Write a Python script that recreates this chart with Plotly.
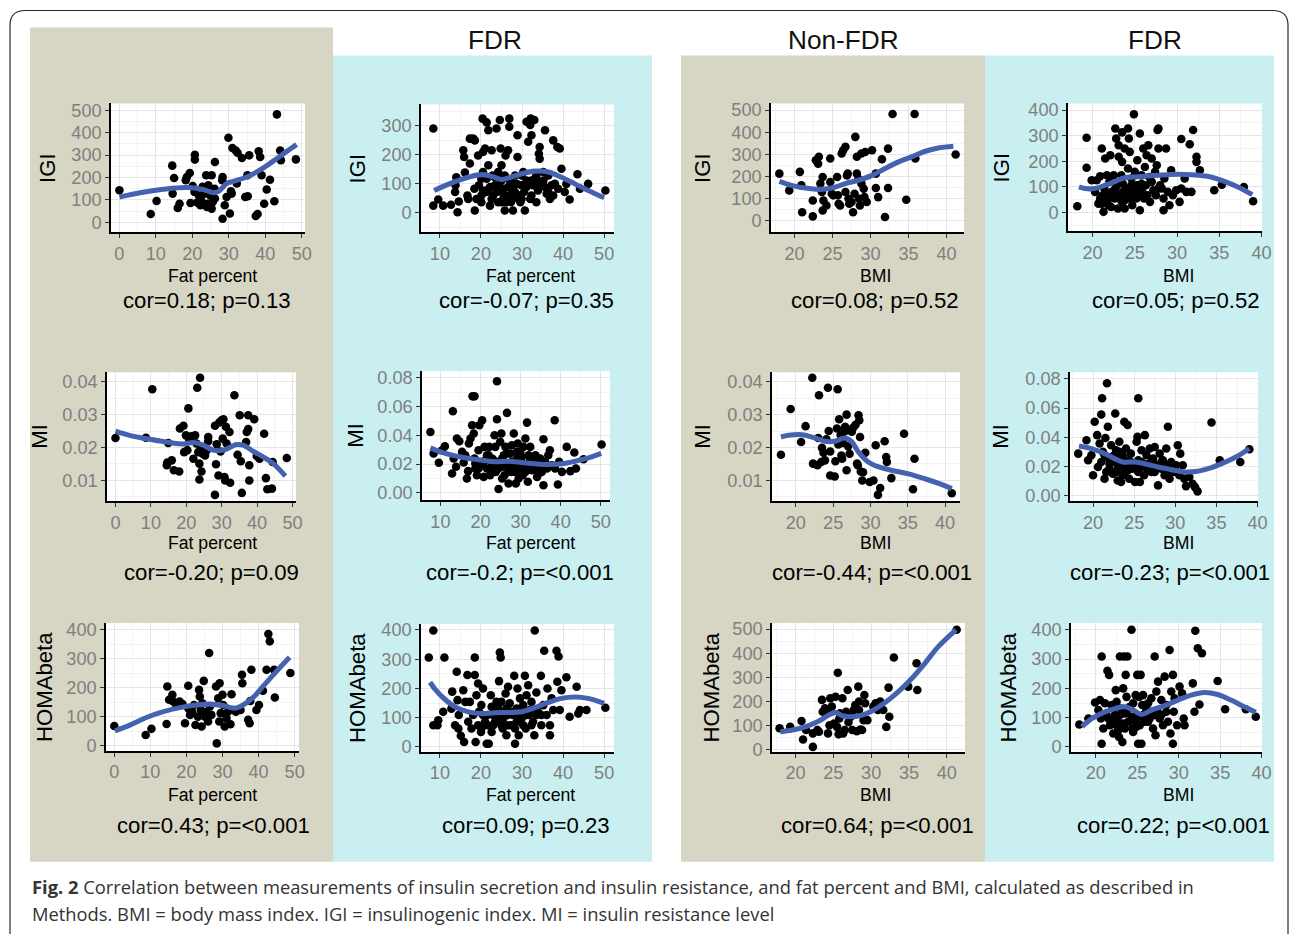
import plotly.graph_objects as go

# target picture size; the page is photographed slightly larger and scaled down, so the
# figure is made a little bigger and positions are mapped from target pixels to page fractions
W, H = 1290, 934
PW, PH = 1300, 942
K = PW / W
SY, OY = 0.988, 3.5   # measured vertical mapping of the photograph: out = OY + SY * page_y

# ---------------- data ----------------
headers = ["FDR", "Non-FDR", "FDR"]
ytitles = ["IGI", "MI", "HOMAbeta"]
xtitles = ["Fat percent", "Fat percent", "BMI", "BMI"]
cor_texts = [
    ["cor=0.18; p=0.13", "cor=-0.07; p=0.35", "cor=0.08; p=0.52", "cor=0.05; p=0.52"],
    ["cor=-0.20; p=0.09", "cor=-0.2; p=<0.001", "cor=-0.44; p=<0.001", "cor=-0.23; p=<0.001"],
    ["cor=0.43; p=<0.001", "cor=0.09; p=0.23", "cor=0.64; p=<0.001", "cor=0.22; p=<0.001"],
]
caption_1 = "<b>Fig. 2</b> Correlation between measurements of insulin secretion and insulin resistance, and fat percent and BMI, calculated as described in"
caption_2 = "Methods. BMI = body mass index. IGI = insulinogenic index. MI = insulin resistance level"

# Panel 1: Non-FDR, Fat percent vs IGI
p1_xy = [(0,143),(8.6,37),(10.2,95),(14.5,253),(15,198),(14.6,128),(16,64),(16.5,83),(18.2,188),(18.5,202),
         (19.3,220),(19.5,86),(20.7,302),(20.7,280),(20.1,162),(20.6,135),(21.3,88),(22.2,76),(22.8,158),(23.1,126),
         (23.8,210),(24,68),(24.4,165),(24.9,120),(25.3,210),(25.6,91),(25.3,61),(26.2,269),(26.1,150),(26.2,106),
         (24.2,83),(28.3,202),(28.2,188),(28.3,16),(28.9,76),(29.4,113),(29.9,378),(30.3,39),(30.6,138),(30.8,128),
         (31,332),(31.9,321),(32.4,311),(32.2,173),(33.6,287),(34.5,113),(35.2,116),(35.6,299),(35.1,210),(38.2,317),
         (38.6,292),(37.4,28),(37.9,37),(39,210),(39.7,83),(40.4,146),(41.3,190),(42.5,94),(43.2,482),(44.1,321),
         (44.3,277),(48.4,281),(21.8,120),(22.5,94)]
p1_sx = [0, 5.7, 12, 18.5, 23, 25.8, 27.2, 29.4, 31.3, 34.9, 39.5, 43.1, 45.9, 48.6]
p1_sy = [113, 132, 147, 155, 146, 132, 138, 173, 183, 202, 243, 284, 317, 347]

# Panel 2: FDR, Fat percent vs IGI
p2_xy = [(8.4,291),(8.4,25),(9.6,46),(10.8,25),(12.7,28),(13.7,72),(13.8,95),(14.3,2),(14.6,39),(14,123),
         (15.7,216),(15.9,193),(16.1,139),(16.7,60),(16.9,48),(17.3,170),(17.3,256),(18.1,256),(18.5,250),(18.4,83),
         (18.5,8),(18.9,48),(19.3,198),(19.5,95),(20.1,118),(20.1,60),(20.1,37),(20.5,210),(20.4,325),(21,222),
         (21.4,312),(21.8,285),(21.8,164),(21.9,83),(22.2,25),(22.6,216),(22.8,129),(23,60),(23.4,95),(23.8,291),
         (24.2,141),(24.2,37),(24.6,320),(24.8,222),(25,164),(25,112),(25,72),(25.4,83),(25.4,48),(25.8,8),
         (26,198),(26.2,60),(26.6,216),(26.6,89),(26.9,297),(26.9,325),(27.3,37),(27.4,60),(27.8,8),(28.3,72),
         (28.7,100),(28.9,193),(28.9,268),(29.2,48),(29.6,37),(29.9,95),(30.3,141),(30.5,72),(30.7,8),(31.1,112),
         (31.1,314),(31.5,245),(32,303),(32.1,325),(32.3,268),(32.7,95),(33,320),(33.1,118),(33.5,129),(33.5,37),
         (34.1,204),(34.3,187),(34.3,227),(34.7,95),(35.2,141),(35.6,285),(35.6,89),(36,66),(36.4,129),(36.8,48),
         (37.2,95),(37.6,250),(37.6,60),(38,100),(38.6,227),(38.8,83),(39.2,222),(39.6,152),(40.4,72),(40.8,100),
         (41.6,46),(43.5,133),(44.1,83),(46.1,100),(50.3,77),
         (20.5,141),(21.4,72),(22.6,48),(23.4,123),(23.8,72),(24.6,118),(25.8,129),(26.6,118),(27.4,106),(28.3,129),
         (29.4,60),(29.9,129),(31.1,89),(32.3,112),(33.1,95),(34.3,106),(35.2,112),(20.5,77),(21.4,118),(22.2,89),
         (24.4,95),(25,37),(26.2,37),(27.4,83),(28.7,54),(29.9,48),(32,48),(32.3,60),(33.9,77),(36.4,72)]
p2_sx = [8.6, 10.4, 13.7, 16.9, 20.1, 22.6, 25, 26.6, 29.9, 33.1, 36.4, 39.6, 42.9, 46.1, 50]
p2_sy = [77, 89, 108, 123, 132, 126, 115, 120, 135, 144, 141, 123, 100, 77, 52]

# Panel 3: Non-FDR, BMI vs IGI
p3_xy = [(18,213),(19.3,137),(20.7,221),(20.9,160),(21,39),(22.4,92),(22.4,20),(22.8,273),(23.1,258),(23.2,289),
         (23.4,168),(23.6,130),(23.7,198),(23.8,92),(23.7,47),(24.2,69),(24.7,281),(24.7,175),(24.9,122),(25.1,115),
         (25.6,198),(25.7,115),(25.8,77),(26,69),(26.2,304),(26.4,319),(26.7,334),(26.7,130),(26.9,205),(27,213),
         (27.1,100),(27.2,77),(27.5,85),(27.7,39),(27.9,122),(28,379),(28.2,213),(28.2,289),(28.4,190),(28.5,100),
         (28.6,69),(28.8,304),(28.8,168),(29.1,145),(29.2,107),(29.3,311),(29.5,85),(30.2,319),(30.7,213),(30.7,148),
         (31,107),(31.5,278),(31.9,17),(32.3,326),(32.3,148),(32.9,482),(34.7,95),(35.8,482),(35.9,281),(41.2,299)]
p3_sx = [18, 19.6, 21.4, 23.2, 24.9, 26.7, 28.4, 30.2, 31.9, 33.7, 35.4, 37.2, 38.9, 40.9]
p3_sy = [178, 160, 148, 142, 148, 168, 183, 205, 236, 266, 289, 314, 329, 337]

# Panel 4: FDR, BMI vs IGI
p4_xy = [(18.2,25),(19.3,175),(19.3,292),(19.9,126),(20.3,81),(20.5,126),(20.7,35),(20.9,142),(21.1,250),(21.2,68),
         (21.3,3),(21.4,94),(21.5,211),(21.7,146),(21.9,55),(22,120),(22.1,224),(22.2,22),(22.3,81),(22.5,146),
         (22.6,55),(22.7,328),(22.8,289),(22.9,107),(23,16),(23.1,218),(23.1,263),(23.3,68),(23.4,146),(23.5,313),
         (23.5,42),(23.5,198),(23.6,113),(23.8,16),(23.8,250),(24,81),(24.2,172),(24.2,328),(24.3,289),(24.4,237),
         (24.4,55),(24.6,133),(24.7,29),(24.8,94),(24.9,384),(25,159),(25.1,68),(25.2,55),(25.3,204),(25.5,107),
         (25.6,9),(25.6,309),(25.8,146),(25.9,81),(26,250),(26.1,55),(26.2,178),(26.3,107),(26.4,224),(26.5,68),
         (26.6,263),(26.7,139),(26.8,42),(26.9,120),(27,211),(27.2,87),(27.4,159),(27.5,68),(27.6,185),(27.7,322),
         (27.8,328),(27.8,250),(28,107),(28.2,94),(28.4,55),(28.4,9),(28.5,133),(28.7,250),(28.9,81),(29.1,29),
         (29.3,165),(29.5,68),(29.9,87),(30.3,42),(30.5,287),(30.5,94),(30.9,133),(31.1,81),(31.5,267),(31.7,81),
         (31.9,322),(32.3,218),(32.3,198),(32.7,165),(34.4,87),(35.3,109),(37.9,100),(39,44),
         (21.5,42),(22.1,68),(22.7,94),(23.1,55),(23.8,68),(24.2,94),(24.6,68),(25,87),(25.4,68),(25.8,113),
         (24.6,107),(23.6,81),(22.9,68),(21.7,74),(20.9,55),(21.1,35),(21.9,29),(23.8,48),(25.2,107),(27,120),(27.8,94)]
p4_sx = [18.4, 19.1, 20.3, 21.5, 22.7, 23.8, 25, 26.2, 27.8, 29.3, 30.9, 32.5, 34, 35.6, 37.2, 38.9]
p4_sy = [100, 94, 94, 107, 122, 136, 139, 142, 146, 149, 149, 146, 139, 122, 100, 70]

# Panel 5: Non-FDR, Fat percent vs MI
p5_xy = [(0,0.0229),(8.6,0.0230),(10.4,0.0377),(14.5,0.0146),(14.6,0.0154),(14.9,0.0214),(15.9,0.0161),(16.5,0.0131),
         (18.0,0.0127),(18.2,0.0258),(19.2,0.0266),(19.4,0.0186),(19.9,0.0237),(20.6,0.0319),(20.3,0.0192),(20.9,0.0222),
         (21.5,0.0234),(22,0.0166),(22.5,0.0237),(22.9,0.0212),(23.1,0.0382),(23.4,0.0186),(23.7,0.0151),(23.7,0.0103),
         (23.9,0.0412),(24.1,0.0202),(24.3,0.0127),(24.6,0.0181),(25.3,0.0176),(25.8,0.0192),(26.2,0.0232),(26.2,0.0219),
         (28.1,0.0266),(28.4,0.0149),(28.1,0.0056),(28.6,0.0210),(29.1,0.0115),(29.3,0.0276),(29.7,0.0188),(30,0.0283),
         (30.3,0.0227),(30.5,0.0286),(30.8,0.0110),(31,0.0100),(31.2,0.0263),(31.4,0.0212),(32.2,0.0247),(32.4,0.0093),
         (33.6,0.0359),(34.5,0.0178),(35.1,0.0298),(35.4,0.0158),(35.7,0.0062),(36.9,0.0217),(37.1,0.0247),(37.5,0.0298),
         (37.5,0.0256),(37.8,0.0100),(37.8,0.0146),(39.2,0.0286),(39.9,0.0174),(40.7,0.0166),(42,0.0242),(42.5,0.0107),
         (42.9,0.0073),(44.2,0.0075),(44.4,0.0156),(48.4,0.0168)]
p5_sx = [0, 4, 9.7, 15.4, 19.2, 22, 24.8, 27.6, 30.5, 34.2, 36.1, 39, 41.8, 44.6, 48]
p5_sy = [0.0250, 0.0237, 0.0225, 0.0215, 0.0211, 0.0215, 0.0207, 0.0192, 0.0192, 0.0209, 0.0207, 0.0188, 0.0171, 0.0151, 0.0113]

# Panel 6: FDR, Fat percent vs MI
p6_xy = [(7.5,0.0424),(8.3,0.0274),(9.6,0.0209),(10.4,0.0297),(11.1,0.0325),(13.1,0.0568),(12.9,0.0134),(13.3,0.0239),
         (13.9,0.0181),(14.1,0.0378),(14.7,0.0359),(15.4,0.0285),(15.8,0.0211),(16.2,0.0262),(16.6,0.0100),(16.9,0.0151),
         (17.1,0.0343),(17.5,0.0378),(17.9,0.0471),(18.0,0.0672),(18.5,0.0672),(18.3,0.0413),(18.5,0.0239),(18.7,0.0169),
         (19.1,0.0123),(19.5,0.0297),(19.7,0.0471),(20.4,0.0506),(20.4,0.0192),(20.8,0.0111),(21,0.0320),(21.2,0.0227),
         (21.6,0.0169),(22,0.0262),(22.2,0.0320),(22.4,0.0123),(22.9,0.0192),(23.3,0.0227),(23.5,0.0401),(23.7,0.0320),
         (23.8,0.0146),(24.1,0.0777),(24.1,0.0512),(24.5,0.0026),(24.7,0.0216),(24.9,0.0355),(25.2,0.0413),(25.4,0.0181),
         (25.8,0.0262),(26,0.0123),(26.2,0.0320),(26.6,0.0557),(26.8,0.0204),(27,0.0065),(27.4,0.0274),(27.7,0.0146),
         (27.8,0.0332),(28.3,0.0413),(28.5,0.0192),(28.8,0.0065),(29.1,0.0239),(29.3,0.0343),(29.7,0.0158),(29.9,0.0285),
         (30.3,0.0216),(30.5,0.0123),(30.7,0.0320),(31.2,0.0378),(31.3,0.0192),(31.6,0.0489),(31.8,0.0077),(32,0.0262),
         (32.4,0.0320),(32.8,0.0158),(33.2,0.0216),(33.7,0.0262),(34.1,0.0111),(34.5,0.0192),(34.9,0.0239),(35.3,0.0146),
         (35.7,0.0373),(35.7,0.0053),(36.1,0.0216),(36.9,0.0262),(37.3,0.0297),(37.8,0.0192),(38.5,0.0506),(38.6,0.0169),
         (39.3,0.0058),(39.6,0.0216),(40.3,0.0146),(41.5,0.0320),(42.4,0.0151),(43.4,0.0281),(43.8,0.0169),(45.7,0.0234),
         (50.2,0.0336),
         (20.8,0.0216),(21.6,0.0262),(22.9,0.0239),(24.5,0.0169),(25.4,0.0239),(26.2,0.0192),(27,0.0158),(27.8,0.0216),
         (28.6,0.0146),(29.5,0.0192),(30.3,0.0251),(31.2,0.0146),(32,0.0192),(32.8,0.0239),(33.7,0.0169),(34.5,0.0134),
         (35.3,0.0192),(36.6,0.0169),(29.5,0.0100),(25.4,0.0100),(22.9,0.0146),(19.5,0.0169),(18.7,0.0204),(23.7,0.0192),
         (26.6,0.0274),(29.1,0.0285),(32.4,0.0227),(34.9,0.0181)]
p6_sx = [7.5, 10.4, 13.7, 17.1, 20.4, 23.7, 27, 30.3, 33.7, 36.9, 40.3, 43.6, 46.9, 50.1]
p6_sy = [0.0313, 0.0281, 0.0257, 0.0239, 0.0227, 0.0216, 0.0220, 0.0211, 0.0202, 0.0197, 0.0202, 0.0220, 0.0243, 0.0274]

# Panel 7: Non-FDR, BMI vs MI
p7_xy = [(18,0.0178),(19.3,0.0317),(20.7,0.0217),(21.3,0.0265),(22.2,0.0412),(22.3,0.0151),(22.9,0.0146),(23,0.0229),
         (23.1,0.0359),(23.4,0.0156),(23.5,0.0199),(23.7,0.0184),(23.9,0.0161),(24.1,0.0225),(24.3,0.0382),(24.4,0.0250),
         (24.6,0.0188),(24.6,0.0115),(25.2,0.0112),(25.3,0.0158),(25.5,0.0258),(25.6,0.0377),(25.7,0.0209),(25.8,0.0286),
         (26,0.0238),(26.1,0.0176),(26.2,0.0166),(26.3,0.0214),(26.5,0.0248),(26.6,0.0263),(26.8,0.0131),(26.8,0.0300),
         (27,0.0204),(27.1,0.0253),(27.2,0.0181),(27.5,0.0248),(27.7,0.0261),(28,0.0269),(28.2,0.0151),(28.3,0.0146),
         (28.4,0.0298),(28.5,0.0283),(28.6,0.0232),(28.7,0.0127),(28.9,0.0100),(29,0.0125),(29.3,0.0184),(29.9,0.0095),
         (30.4,0.0100),(30.7,0.0207),(31,0.0056),(31.3,0.0077),(31.9,0.0219),(32.1,0.0171),(32.2,0.0156),(32.8,0.0107),
         (34.5,0.0242),(35.7,0.0073),(35.9,0.0166),(40.9,0.0061)]
p7_sx = [18, 19, 20.8, 22.6, 23.9, 25.2, 26.6, 27.5, 28.4, 29.7, 31.1, 32.8, 35.1, 37.3, 39.6, 40.9]
p7_sy = [0.0232, 0.0237, 0.0239, 0.0229, 0.0219, 0.0219, 0.0229, 0.0217, 0.0186, 0.0156, 0.0141, 0.0131, 0.0120, 0.0105, 0.0087, 0.0075]

# Panel 8: FDR, BMI vs MI
p8_xy = [(18.2,0.0287),(19.2,0.0379),(19.4,0.0241),(20,0.0138),(20.2,0.0506),(20.5,0.0414),(20.6,0.0195),(20.8,0.0356),
         (21,0.0556),(21.1,0.0667),(21.2,0.0299),(21.4,0.0115),(21.5,0.0395),(21.7,0.0770),(21.8,0.0471),(21.9,0.0253),
         (22,0.0184),(22.2,0.0345),(22.4,0.0149),(22.6,0.0230),(22.7,0.0563),(22.8,0.0310),(23,0.0103),(23.2,0.0368),
         (23.4,0.0207),(23.4,0.0092),(23.6,0.0276),(23.8,0.0506),(23.9,0.0161),(24,0.0322),(24.2,0.0483),(24.3,0.0230),
         (24.4,0.0115),(24.6,0.0287),(24.8,0.0184),(25.1,0.0092),(25.3,0.0368),(25.4,0.0402),(25.5,0.0667),(25.5,0.0241),
         (25.7,0.0092),(25.9,0.0310),(25.9,0.0195),(26.2,0.0138),(26.3,0.0414),(26.5,0.0276),(26.7,0.0218),(26.9,0.0322),
         (27.1,0.0161),(27.3,0.0253),(27.5,0.0333),(27.7,0.0207),(27.9,0.0069),(28.1,0.0287),(28.3,0.0184),(28.5,0.0241),
         (28.7,0.0138),(28.9,0.0322),(29.1,0.0471),(29.2,0.0207),(29.3,0.0115),(29.5,0.0230),(29.9,0.0161),(30.3,0.0345),
         (30.5,0.0138),(30.6,0.0287),(30.9,0.0207),(31.1,0.0115),(31.3,0.0064),(31.7,0.0126),(32.1,0.0080),(32.4,0.0057),
         (32.7,0.0028),(34.4,0.0501),(35.4,0.0241),(37.9,0.0230),(39,0.0317),
         (19.8,0.0276),(21,0.0230),(21.4,0.0276),(22,0.0218),(22.6,0.0276),(23,0.0184),(23.4,0.0253),(23.8,0.0207),
         (24.2,0.0172),(24.6,0.0230),(25.1,0.0207),(25.5,0.0161),(25.9,0.0230),(26.3,0.0207),(26.7,0.0172),(27.1,0.0230),
         (27.5,0.0161),(27.9,0.0207),(28.3,0.0230),(28.9,0.0184),(29.5,0.0161),(30.1,0.0207),(21.6,0.0161),(22.2,0.0264),
         (22.8,0.0161),(23.2,0.0299),(23.6,0.0138),(24,0.0241)]
p8_sx = [18.3, 19.8, 21.4, 22.6, 23.6, 25.1, 26.3, 27.9, 29.5, 31.1, 32.7, 34.3, 35.9, 37.6, 39]
p8_sy = [0.0340, 0.0322, 0.0287, 0.0253, 0.0230, 0.0230, 0.0218, 0.0195, 0.0177, 0.0161, 0.0166, 0.0189, 0.0225, 0.0271, 0.0322]

# Panel 9: Non-FDR, Fat percent vs HOMAbeta
p9_xy = [(0,69),(8.7,38),(10.3,59),(14.5,76),(14.7,205),(15.2,159),(16.1,176),(16.3,153),(17.2,141),(18.1,153),
         (18.9,144),(19.6,78),(20.5,207),(20.5,130),(21,107),(21.6,118),(22.1,141),(22.5,72),(23.2,101),(23.5,193),
         (23.7,170),(24,124),(24.2,67),(24.4,147),(24.8,224),(25.1,101),(25.6,118),(26,84),(26.3,320),(26.5,136),
         (26.9,107),(28.2,205),(28.4,9),(28.8,164),(29.1,84),(29.2,216),(29.5,113),(30,176),(30.2,141),(30.6,67),
         (31.1,95),(31.5,118),(32.2,75),(32.5,178),(33,124),(33.7,118),(35,124),(35.4,245),(35.5,216),(37.1,90),
         (37.5,78),(37.7,155),(38,262),(39.4,124),(40.1,141),(41.2,190),(42.2,262),(42.7,385),(43.1,360),(44.3,262),
         (44.5,167),(48.8,251)]
p9_sx = [0.2, 4.3, 8.9, 13.6, 18.2, 22.8, 26.5, 30.2, 33.4, 35.7, 38.5, 41.2, 44.9, 48.6]
p9_sy = [52, 72, 98, 118, 132, 141, 144, 139, 130, 141, 167, 205, 256, 305]

# Panel 10: FDR, Fat percent vs HOMAbeta
p10_xy = [(7.3,306),(8.4,398),(8.4,74),(9.6,91),(9.4,74),(10.8,120),(11.1,306),(12.8,131),(13,189),(13.7,74),
          (14.1,257),(14.3,160),(14.5,63),(14.6,109),(15.1,38),(15.7,194),(15.9,17),(16.2,154),(16.7,246),(16.9,86),
          (17.3,154),(17.7,63),(18.1,109),(18.5,306),(18.5,246),(18.7,17),(18.9,177),(19.3,217),(19.5,120),(20,51),
          (20.1,143),(20.5,200),(21,86),(21.4,11),(21.6,109),(21.9,11),(22.4,177),(22.6,137),(23,74),(23.4,109),
          (23.8,154),(24.2,97),(24.4,225),(24.6,323),(24.8,306),(25,154),(25.3,63),(25.7,120),(26,183),(26.2,40),
          (26.5,109),(26.6,206),(27,149),(27.4,74),(27.8,109),(28.1,243),(28.3,11),(28.7,131),(28.9,200),(29.2,40),
          (29.5,166),(29.9,97),(30.3,143),(30.7,243),(30.9,63),(31.1,177),(31.5,211),(31.7,109),(32.3,154),(32.7,86),
          (33,40),(33.1,398),(33.5,186),(33.9,120),(34.6,243),(34.7,74),(35.2,143),(35.4,329),(36,109),(36.2,200),
          (36.8,40),(36.8,74),(37.2,166),(37.6,126),(38.4,329),(38.6,223),(38.9,309),(39.2,126),(39.6,194),(40.8,238),
          (41.6,103),(43.3,206),(43.7,114),(44.1,126),(45.7,126),(50.3,134),
          (19.3,74),(20.5,109),(21.7,74),(23,109),(24.2,131),(25.4,97),(26.6,74),(27.4,120),(28.7,86),(29.9,131),
          (31.1,109),(32.3,74),(33.5,109),(20.1,63),(22.6,51),(25,109),(26.2,131),(29,109),(31.9,126),(34.7,109),
          (23.4,86),(25,74),(28.3,63),(30.3,74)]
p10_sx = [7.6, 8.8, 11.2, 13.7, 16.9, 20.1, 23.4, 26.6, 29.9, 33.1, 36.4, 39.6, 42.9, 46.1, 50]
p10_sy = [221, 198, 163, 137, 120, 114, 117, 118, 120, 134, 152, 166, 171, 166, 149]

# Panel 11: Non-FDR, BMI vs HOMAbeta
p11_xy = [(17.9,88),(19.3,94),(20.8,118),(21,42),(21.4,81),(22.3,11),(22.3,67),(22.9,81),(23.1,74),(23.5,206),
          (23.6,157),(23.9,171),(24.2,164),(24.3,67),(24.5,101),(24.6,213),(24.8,178),(25.1,108),(25.3,219),(25.5,94),
          (25.6,319),(25.7,63),(25.8,129),(25.9,150),(26.2,213),(26.3,67),(26.5,81),(26.7,157),(26.9,247),(27,113),
          (27.3,136),(27.5,81),(27.7,164),(27.9,185),(28.1,76),(28.3,261),(28.4,164),(28.4,199),(28.6,83),(28.8,81),
          (29,122),(29.1,226),(29.2,192),(29.5,122),(30.3,178),(30.6,192),(30.9,164),(31.2,199),(31.6,164),(32,94),
          (32.3,257),(32.4,136),(33,382),(34.9,261),(36,358),(36.1,247),(41.3,497)]
p11_sx = [18, 19.6, 21.3, 23.1, 24.4, 25.3, 26.2, 27.5, 28.8, 30.1, 31.9, 33.6, 35.4, 37.1, 38.9, 41.2]
p11_sy = [74, 81, 94, 118, 143, 154, 140, 136, 143, 160, 196, 240, 296, 358, 428, 497]

# Panel 12: FDR, BMI vs HOMAbeta
p12_xy = [(18,77),(19.1,97),(19.9,152),(20.3,126),(20.5,160),(20.6,97),(20.7,309),(20.7,11),(20.9,63),(21.1,149),
          (21.3,109),(21.4,260),(21.6,246),(21.7,74),(21.9,143),(22.1,46),(22.3,109),(22.4,194),(22.5,154),(22.6,97),
          (22.8,34),(22.9,309),(23,131),(23.2,17),(23.3,200),(23.4,309),(23.5,114),(23.6,246),(23.7,171),(23.8,309),
          (23.9,86),(24.1,137),(24.3,400),(24.4,63),(24.5,149),(24.6,103),(24.8,177),(24.9,69),(25,246),(25.1,11),
          (25.2,171),(25.3,103),(25.4,246),(25.5,11),(25.6,143),(25.7,177),(25.9,86),(26.1,126),(26.3,149),(26.5,97),
          (26.7,166),(26.9,63),(27.1,309),(27.2,40),(27.3,189),(27.4,126),(27.5,223),(27.7,97),(27.9,160),(28.1,74),
          (28.3,240),(28.5,120),(28.7,86),(28.9,331),(29,46),(29.1,189),(29.3,246),(29.3,11),(29.4,120),(29.5,166),
          (29.8,74),(30.1,206),(30.4,183),(30.6,97),(30.7,74),(31.7,217),(31.9,120),(32,397),(32.3,337),(32.5,145),
          (32.8,320),(34.7,225),(35.6,129),(38.1,129),(39.3,103),
          (21.1,109),(21.5,97),(22.1,131),(22.5,74),(22.9,109),(23.3,80),(23.7,120),(24.3,103),(24.7,86),(25.3,74),
          (25.7,109),(26.3,86),(26.7,120),(27.1,109),(27.9,109),(28.5,143),(21.9,86),(22.7,57),(23.5,63),(24.5,51)]
p12_sx = [18.3, 19.5, 21.1, 22.3, 23.5, 24.5, 25.5, 26.7, 28.3, 29.9, 31.5, 33.1, 34.7, 36.3, 37.9, 39.3]
p12_sy = [69, 97, 120, 131, 137, 126, 111, 126, 141, 160, 177, 186, 179, 160, 137, 118]

points = [p1_xy, p2_xy, p3_xy, p4_xy, p5_xy, p6_xy, p7_xy, p8_xy, p9_xy, p10_xy, p11_xy, p12_xy]
smooth_x = [p1_sx, p2_sx, p3_sx, p4_sx, p5_sx, p6_sx, p7_sx, p8_sx, p9_sx, p10_sx, p11_sx, p12_sx]
smooth_y = [p1_sy, p2_sy, p3_sy, p4_sy, p5_sy, p6_sy, p7_sy, p8_sy, p9_sy, p10_sy, p11_sy, p12_sy]

# ---------------- layout geometry (target pixels -> paper fractions) ----------------
def fx(x):
    return x / W

def fy(y):
    return 1 - (y - OY) / (SY * PH)

def sz(v):
    return v * K

# plot areas: (left, right, top, bottom)
boxes = [
    (111, 305, 103, 232), (421, 614, 104, 232), (771, 964, 103, 232), (1068, 1262, 103, 231),
    (107, 296, 372, 501), (422, 610, 371, 500), (772, 960, 372, 501), (1070, 1258, 372, 501),
    (106, 299, 623, 751), (421, 614, 624, 752), (772, 965, 623, 752), (1071, 1262, 623, 752),
]
xranges = [[-2.3, 50.9], [5.4, 52.4], [16.9, 42.3], [17.1, 40.05],
           [-2.4, 51.0], [5.4, 52.3], [16.8, 42.0], [17.2, 40.05],
           [-2.3, 51.2], [5.4, 52.4], [16.9, 42.4], [17.0, 40.05]]
yranges = [[-45, 531], [-67, 374], [-52, 530], [-73, 426],
           [0.0037, 0.0429], [-0.0051, 0.0847], [0.0037, 0.0429], [-0.0039, 0.0846],
           [-17, 423], [-17, 420], [-10, 525], [-17, 423]]
xdticks = [10, 10, 5, 5] * 3
ydticks = [100, 100, 100, 100, 0.01, 0.02, 0.01, 0.02, 100, 100, 100, 100]
yfmts = ["", "", "", "", ".2f", ".2f", ".2f", ".2f", "", "", "", ""]

ytitle_x = [48, 357, 703, 1001, 40, 356, 703, 1001, 45, 358, 711, 1008]
xtitle_cx = [212, 530, 875, 1178]
xtitle_y = [276, 543, 795]
cor_cx = [[207, 526, 875, 1176], [211, 520, 872, 1170], [213, 526, 877, 1173]]
cor_y = [300, 572, 826]

TAN = "#d7d5c3"
CYAN = "#c9eff0"
FONT = "Liberation Sans, Arial, sans-serif"

fig = go.Figure()
shapes = []
annotations = []

# column backgrounds
shapes.append(dict(type="rect", xref="paper", yref="paper", x0=fx(30), x1=fx(333), y0=fy(862), y1=fy(27),
                   fillcolor=TAN, line_width=0, layer="below"))
shapes.append(dict(type="rect", xref="paper", yref="paper", x0=fx(333), x1=fx(652), y0=fy(862), y1=fy(55),
                   fillcolor=CYAN, line_width=0, layer="below"))
shapes.append(dict(type="rect", xref="paper", yref="paper", x0=fx(681), x1=fx(985), y0=fy(862), y1=fy(55),
                   fillcolor=TAN, line_width=0, layer="below"))
shapes.append(dict(type="rect", xref="paper", yref="paper", x0=fx(985), x1=fx(1274), y0=fy(862), y1=fy(55),
                   fillcolor=CYAN, line_width=0, layer="below"))

# rounded frame
r = 15
path = (f"M {fx(10)},{fy(945)} L {fx(10)},{fy(10 + r)} Q {fx(10)},{fy(10)} {fx(10 + r)},{fy(10)} "
        f"L {fx(1288 - r)},{fy(10)} Q {fx(1288)},{fy(10)} {fx(1288)},{fy(10 + r)} L {fx(1288)},{fy(945)}")
shapes.append(dict(type="path", xref="paper", yref="paper", path=path,
                   line=dict(color="#2b2b2b", width=sz(1.2)), layer="above"))

for i in range(12):
    n = i + 1
    sfx = "" if n == 1 else str(n)
    L, R, T, B = boxes[i]
    shapes.append(dict(type="rect", xref="paper", yref="paper", x0=fx(L), x1=fx(R), y0=fy(B), y1=fy(T),
                       fillcolor="white", line_width=0, layer="below"))
    axcommon = dict(showline=True, linecolor="black", linewidth=sz(1.5), mirror=False, zeroline=False,
                    ticks="outside", ticklen=sz(4), tickwidth=1, tickcolor="#333333",
                    tickfont=dict(family=FONT, size=sz(18), color="#7f7f7f"),
                    showgrid=True, gridcolor="#e6e6e6", gridwidth=1, tickmode="linear", tick0=0)
    xa = dict(axcommon, domain=[fx(L), fx(R)], range=xranges[i], dtick=xdticks[i],
              anchor="y" + sfx,
              minor=dict(dtick=xdticks[i] / 2, tick0=0, showgrid=True, gridcolor="#f3f3f3", ticks=""))
    ya = dict(axcommon, domain=[fy(B), fy(T)], range=yranges[i], dtick=ydticks[i],
              anchor="x" + sfx, tickformat=yfmts[i],
              minor=dict(dtick=ydticks[i] / 2, tick0=0, showgrid=True, gridcolor="#f3f3f3", ticks=""))
    fig.layout["xaxis" + sfx] = xa
    fig.layout["yaxis" + sfx] = ya

    px_, py_ = zip(*points[i])
    fig.add_trace(go.Scatter(x=list(px_), y=list(py_), mode="markers", xaxis="x" + sfx, yaxis="y" + sfx,
                             marker=dict(color="black", size=sz(8.5), line_width=0), showlegend=False,
                             hoverinfo="skip"))
    fig.add_trace(go.Scatter(x=smooth_x[i], y=smooth_y[i], mode="lines", xaxis="x" + sfx, yaxis="y" + sfx,
                             line=dict(color="#4462b0", width=sz(5), shape="spline", smoothing=1.0),
                             showlegend=False, hoverinfo="skip"))

    row, col = divmod(i, 4)
    annotations.append(dict(text=ytitles[row], x=fx(ytitle_x[i]), y=fy((T + B) / 2), xref="paper", yref="paper",
                            textangle=-90, showarrow=False, xanchor="center", yanchor="middle",
                            font=dict(family=FONT, size=sz(22), color="black")))
    annotations.append(dict(text=xtitles[col], x=fx(xtitle_cx[col]), y=fy(xtitle_y[row]), xref="paper",
                            yref="paper", showarrow=False, xanchor="center", yanchor="middle",
                            font=dict(family=FONT, size=sz(17.5), color="black")))
    annotations.append(dict(text=cor_texts[row][col], x=fx(cor_cx[row][col]), y=fy(cor_y[row]), xref="paper",
                            yref="paper", showarrow=False, xanchor="center", yanchor="middle",
                            font=dict(family=FONT, size=sz(22), color="black")))

for txt, cx in zip(headers, [495, 843, 1155]):
    annotations.append(dict(text=txt, x=fx(cx), y=fy(40), xref="paper", yref="paper", showarrow=False,
                            xanchor="center", yanchor="middle", font=dict(family=FONT, size=sz(26), color="#111111")))

annotations.append(dict(text=caption_1, x=fx(30), y=fy(887), xref="paper", yref="paper", showarrow=False,
                        xanchor="left", yanchor="middle", font=dict(family="Open Sans, sans-serif", size=sz(18.2),
                                                                     color="#333333")))
annotations.append(dict(text=caption_2, x=fx(30), y=fy(914), xref="paper", yref="paper", showarrow=False,
                        xanchor="left", yanchor="middle", font=dict(family="Open Sans, sans-serif", size=sz(18.2),
                                                                     color="#333333")))

fig.update_layout(width=PW, height=PH, margin=dict(l=0, r=0, t=0, b=0), paper_bgcolor="white",
                  plot_bgcolor="rgba(0,0,0,0)", shapes=shapes, annotations=annotations, showlegend=False)

fig.write_html("out.html", config={"displayModeBar": False},
               post_script="document.body.style.margin='0';document.body.style.overflow='hidden';"
                           "document.documentElement.style.overflow='hidden';")
